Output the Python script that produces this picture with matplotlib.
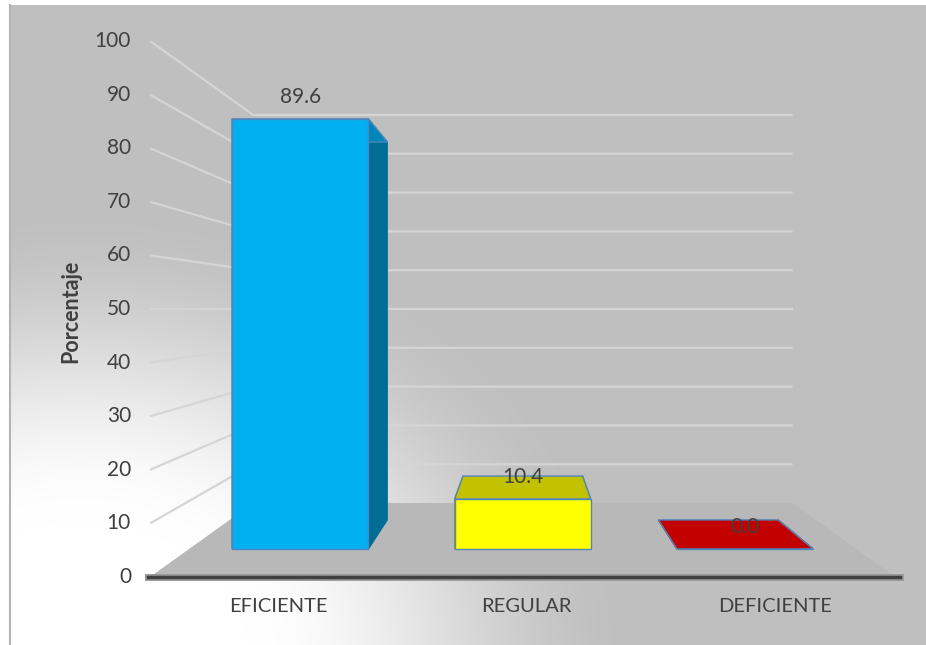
"""3D-style bar chart: Porcentaje por categoria."""
import numpy as np
import matplotlib.pyplot as plt
from matplotlib.colors import to_rgb

categories = ["EFICIENTE", "REGULAR", "DEFICIENTE"]
values = [89.6, 10.4, 0.0]
value_labels = ["89.6", "10.4", "0.0"]
yticks = [0, 10, 20, 30, 40, 50, 60, 70, 80, 90, 100]
ylabel = "Porcentaje"
front_colors = ["#00B0F0", "#FFFF00", "#FF0000"]

plt.rcParams["font.family"] = ["Lato", "DejaVu Sans"]
TXT = "#404040"

W, H = 926, 645
fig = plt.figure(figsize=(W / 100, H / 100), dpi=100)
fig.patch.set_facecolor("white")
ax = fig.add_axes([0, 0, 1, 1])
ax.set_xlim(0, W)
ax.set_ylim(H, 0)
ax.axis("off")

# perspective set-up (pixels): front plane, vanishing point, depth scales
VPX, VPY = 524, 309
X0, X1 = 150, 895          # front edge of floor
Y0, PXU = 577, 5.36        # front plane: value 0 row, px per unit
S_BACK = 0.724             # back wall scale
S_BAR_F, S_BAR_B = 0.8955, 0.787  # bar front / back depth
BAR_W = 0.612              # fraction of category slot


def proj(xf, v, s):
    return VPX + (xf - VPX) * s, VPY + (Y0 - PXU * v - VPY) * s


def shade(c, f):
    return tuple(np.array(to_rgb(c)) * f)


# background: gray with white glow from lower-left
L, T = 10, 5
gx, gy = np.meshgrid(np.arange(L, W), np.arange(T, H))
d = np.sqrt(((gx - 80) / 560.0) ** 2 + ((gy - 660) / 460.0) ** 2)
t = np.clip((d - 0.3) / 0.7, 0, 1)
t = t * t * (3 - 2 * t)
g = (255 - (255 - 191) * t) / 255.0
ax.imshow(np.dstack([g, g, g]), extent=(L, W, H, T), zorder=0, interpolation="bilinear")
ax.plot([L, L], [T, H], color="#B4B4B4", lw=1.5, zorder=1)

# floor
floor = [proj(X0, 0, 1), proj(X1, 0, 1), proj(X1, 0, S_BACK), proj(X0, 0, S_BACK)]
ax.add_patch(plt.Polygon(floor, closed=True, fc="#B8B8B8", ec="none", zorder=1))

# gridlines: left wall diagonals + back wall horizontals
for v in yticks[1:]:
    fx, fy = proj(X0, v, 1)
    bx, by = proj(X0, v, S_BACK)
    rx, ry = proj(X1, v, S_BACK)
    ax.plot([fx, bx, rx], [fy, by, ry], color="#D5D5D5", lw=1.6, zorder=2,
            solid_capstyle="butt", solid_joinstyle="round")

# front axis line
ax.plot([X0 - 2, X1 + 5], [Y0, Y0], color="#9A9A9A", lw=5, zorder=2)
ax.plot([X0 - 2, X1 + 5], [Y0, Y0], color="#404040", lw=2.5, zorder=3)

# y tick labels
for v in yticks:
    _, y = proj(X0, v, 1)
    ax.text(X0 - 19, y, str(v), ha="right", va="center", fontsize=15, color=TXT)

ax.text(71, 311, ylabel, rotation=90, ha="center", va="center",
        fontsize=15.5, fontweight="bold", color=TXT)

# bars
step = (X1 - X0) / len(categories)
edge = "#4E86C0"
for i, (cat, v, lab, col) in enumerate(zip(categories, values, value_labels, front_colors)):
    cx = X0 + (i + 0.5) * step
    xl, xr = cx - BAR_W * step / 2, cx + BAR_W * step / 2
    fl0, fr0 = proj(xl, 0, S_BAR_F), proj(xr, 0, S_BAR_F)
    flv, frv = proj(xl, v, S_BAR_F), proj(xr, v, S_BAR_F)
    bl0, br0 = proj(xl, 0, S_BAR_B), proj(xr, 0, S_BAR_B)
    blv, brv = proj(xl, v, S_BAR_B), proj(xr, v, S_BAR_B)
    side_c = shade(col, 0.62)
    top_c = shade(col, 0.76)
    for poly, c, ec in (([fr0, br0, brv, frv], side_c, side_c),
                        ([fl0, bl0, blv, flv], side_c, side_c),
                        ([flv, frv, brv, blv], top_c, edge),
                        ([fl0, fr0, frv, flv], col, edge)):
        ax.add_patch(plt.Polygon(poly, closed=True, fc=c, ec=ec, lw=1.0,
                                 joinstyle="round", zorder=4))
    ax.text((fl0[0] + fr0[0]) / 2, flv[1] - 22, lab, ha="center", va="center",
            fontsize=15, color=TXT, zorder=6)
    ax.text(cx + 4, 606, cat, ha="center", va="center", fontsize=14.5, color=TXT)

fig.savefig("out.png", dpi=100)
